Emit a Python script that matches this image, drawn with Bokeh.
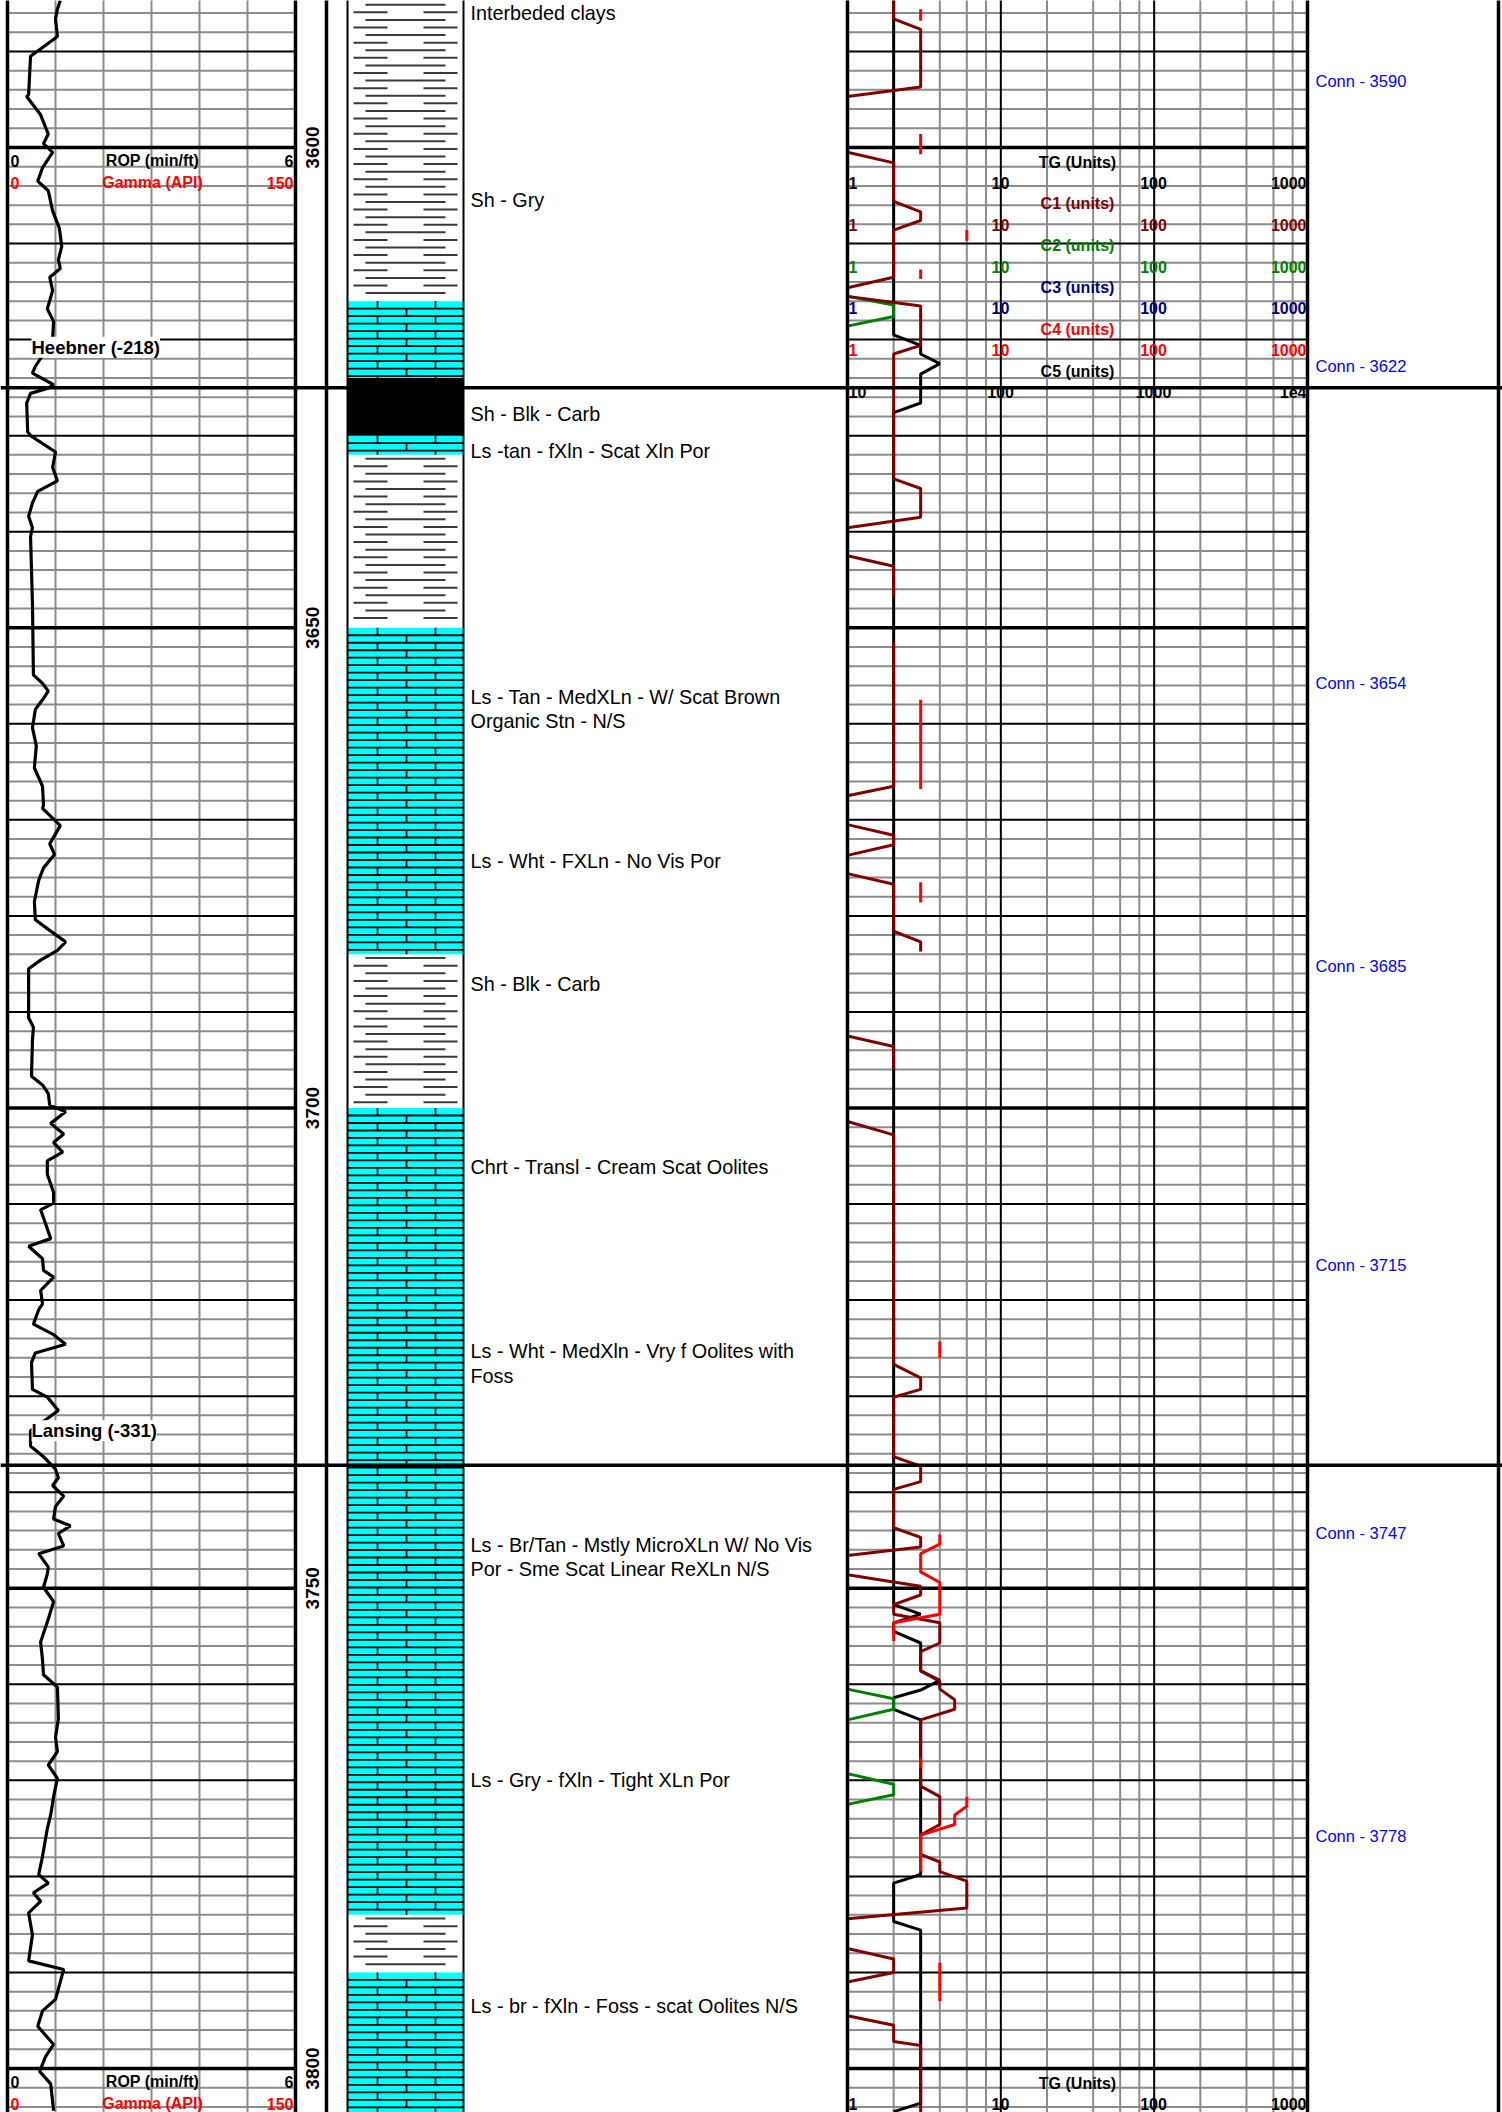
import numpy as np
from bokeh.plotting import figure
from bokeh.models import Range1d, LogScale, Label
from bokeh.core.properties import value
from bokeh.embed import file_html
from bokeh.resources import INLINE

NaN = float("nan")

# ---------------- data ----------------
depth_labels = [3600, 3650, 3700, 3750, 3800]
header_depths = [3600, 3800]

rop_depth = [3584.7, 3585.6, 3586.6, 3588.4, 3588.6, 3590.5, 3594.5, 3594.7, 3596.6, 3598.6,
             3599.6, 3600.5, 3602.1, 3603.5, 3604.5, 3606.6, 3608.4, 3610.3, 3611.7, 3612.6,
             3613.5, 3614.9, 3616.8, 3618.1, 3620.0, 3622.8, 3623.5, 3624.7, 3625.1, 3625.6,
             3626.6, 3629.6, 3630.0, 3631.7, 3633.3, 3634.7, 3635.8, 3637.0, 3638.4, 3639.6,
             3640.5, 3647.5, 3654.9, 3655.8, 3656.6, 3657.5,
             3658.5, 3660.4, 3662.3, 3664.6, 3666.5, 3668.5, 3668.8, 3670.6, 3672.5, 3673.6,
             3675.0, 3676.3, 3678.5, 3680.4, 3681.4, 3682.7, 3683.6, 3684.6, 3685.5, 3690.6,
             3691.6, 3692.9, 3696.7, 3697.6, 3698.5, 3699.7, 3700.4, 3701.6, 3702.7, 3703.6,
             3704.6, 3705.5, 3706.9, 3708.8, 3709.9, 3710.6, 3712.0, 3713.6, 3714.4, 3715.7,
             3716.9, 3717.6, 3719.0, 3720.4, 3721.0, 3722.5, 3723.6, 3724.6, 3725.5, 3726.5,
             3729.3, 3730.1,
             3731.5, 3733.6, 3735.2, 3736.3, 3737.6, 3738.5, 3739.3, 3740.4, 3741.5, 3742.8,
             3743.5, 3744.3, 3745.6, 3746.4, 3747.8, 3748.5, 3749.9, 3751.4, 3753.2, 3755.6,
             3757.5, 3759.0, 3760.3, 3763.6, 3765.5, 3767.0, 3768.4, 3769.8, 3771.7, 3773.6,
             3775.0, 3777.9, 3779.8, 3780.7, 3781.7, 3782.6, 3783.8, 3786.1, 3788.8, 3789.7,
             3792.8, 3794.0, 3795.6, 3797.5, 3798.8, 3800.3, 3801.6, 3804.4]
rop_val = [1.10, 1.04, 1.00, 1.04, 1.00, 0.48, 0.44, 0.40, 0.69, 0.85,
           0.75, 0.94, 0.73, 0.63, 0.85, 0.94, 1.08, 1.13, 1.06, 1.10,
           0.88, 0.94, 0.83, 0.96, 0.94, 0.58, 0.52, 0.96, 0.83, 0.48,
           0.40, 0.42, 0.48, 1.00, 0.94, 1.04, 0.63, 0.52, 0.44, 0.52,
           0.48, 0.52, 0.54, 0.73, 0.85, 0.73,
           0.58, 0.52, 0.60, 0.56, 0.73, 0.75, 0.73, 1.10, 0.88, 0.98,
           0.75, 0.65, 0.56, 0.58, 0.85, 1.21, 1.04, 0.69, 0.44, 0.44,
           0.54, 0.52, 0.50, 0.73, 0.85, 0.88, 1.21, 0.90, 1.17, 0.96,
           1.15, 0.83, 0.83, 0.96, 0.96, 0.69, 0.79, 0.90, 0.44, 0.73,
           0.75, 0.96, 0.69, 0.73, 0.65, 0.54, 0.96, 1.21, 0.58, 0.50,
           0.52, 0.83,
           1.06, 0.48, 0.48, 0.75, 1.00, 1.06, 0.94, 1.17, 1.00, 0.96,
           1.31, 1.06, 1.17, 0.65, 0.85, 0.83, 0.75, 0.96, 0.85, 0.69,
           0.73, 0.75, 1.04, 1.06, 1.00, 1.04, 0.85, 1.04, 0.96, 0.90,
           0.83, 0.73, 0.65, 0.85, 0.54, 0.69, 0.44, 0.52, 0.44, 1.17,
           1.00, 0.73, 0.63, 0.96, 0.79, 0.67, 0.90, 0.96]

tg_depth = [3584.7, 3619.5, 3620.6, 3621.5, 3622.5, 3623.6, 3626.6, 3627.6, 3751.7, 3752.7,
            3753.6, 3754.5, 3755.7, 3758.6, 3759.6, 3760.6, 3761.4, 3762.6, 3763.7, 3779.8,
            3780.7, 3784.7, 3785.6, 3803.6, 3804.5]
tg_val = [2, 2, 3, 3, 4, 3, 3, 2, 2, 3,
          2, 2, 3, 3, 4, 3, 2, 2, 3, 3,
          2, 2, 3, 3, 2]

c1_depth = [3584.7, 3586.6, 3587.7, 3593.7, 3594.7, 3600.5, 3601.6, 3605.6, 3606.7, 3607.6,
            3608.6, 3613.5, 3614.6, 3615.5, 3616.5, 3620.6, 3621.5, 3634.5, 3635.5, 3638.5,
            3639.6, 3642.5, 3643.6, 3646.8, 3649.0, 3651.5, 3666.5, 3667.5, 3670.5, 3671.6,
            3672.6, 3673.7, 3675.6, 3676.7, 3681.6, 3682.7, 3683.7, 3688.0, 3692.5, 3693.6,
            3696.0, 3699.0, 3701.4, 3702.8, 3726.7, 3728.1, 3729.3, 3730.1, 3736.3, 3737.3,
            3738.9, 3739.7, 3743.7, 3744.7, 3745.7, 3746.6, 3748.6, 3749.8, 3750.7, 3751.7,
            3752.7, 3753.6, 3755.7, 3756.6, 3758.6, 3759.7, 3760.5, 3761.6, 3762.6, 3763.7,
            3770.6, 3771.7, 3774.6, 3775.7, 3777.7, 3778.5, 3779.5, 3780.5, 3782.6, 3783.3,
            3784.4, 3787.5, 3788.6, 3790.0, 3791.0, 3794.5, 3795.5, 3797.2, 3797.6, 3804.7]
c1_val = [2, 2, 3, 3, 1, 1, 2, 2, 3, 3,
          2, 2, 1, 1, 3, 3, 2, 2, 3, 3,
          1, 1, 2, 2, NaN, 2, 2, 1, 1, 2,
          2, 1, 1, 2, 2, 3, 3, NaN, 1, 2,
          2, NaN, 1, 2, 2, 3, 3, 2, 2, 3,
          3, 2, 2, 3, 3, 1, 1, 3, 3, 2,
          2, 4, 4, 3, 3, 4, 4, 5, 5, 3,
          3, 4, 4, 3, 3, 4, 4, 6, 6, 6,
          1, 1, 2, 2, 1, 1, 2, 2, 3, 3]

c2_depth = [3584.7, 3615.5, 3616.4, 3617.6, 3618.6, 3760.5, 3761.5, 3762.6, 3763.7, 3769.3,
            3770.4, 3771.5, 3772.5, 3804.7]
c2_val = [1, 1, 2, 2, 1, 1, 2, 2, 1, 1, 2, 2, 1, 1]

c4_depth = [3585.6, 3586.8, 3587.5, 3598.6, 3600.7, 3601.5, 3608.6, 3609.7, 3610.5, 3612.7,
            3613.7, 3614.5, 3657.5, 3666.8, 3667.5, 3676.5, 3678.6, 3679.5, 3724.3, 3726.0,
            3727.0, 3744.4, 3745.4, 3746.4, 3748.3, 3749.4, 3752.7, 3753.6, 3755.5, 3756.5,
            3767.7, 3768.7, 3769.5, 3771.7, 3772.7, 3773.6, 3774.6, 3775.7, 3779.5, 3780.5,
            3789.0, 3793.0]
c4_val = [3, 3, NaN, 3, 3, NaN, 6, 6, NaN, 3,
          3, NaN, 3, 3, NaN, 3, 3, NaN, 4, 4,
          NaN, 4, 4, 3, 3, 4, 4, 2, 2, NaN,
          3, 3, NaN, 6, 6, 5, 5, 3, 3, NaN,
          4, 4]

lith_top = [3580, 3616, 3624, 3630, 3632, 3650, 3684, 3700, 3784, 3790]
lith_bot = [3616, 3624, 3630, 3632, 3650, 3684, 3700, 3784, 3790, 3810]
lith_kind = ["shale", "limestone", "black_shale", "limestone", "shale",
             "limestone", "shale", "limestone", "shale", "limestone"]

desc_text = ["Interbeded clays", "Sh - Gry", "Sh - Blk - Carb", "Ls -tan - fXln - Scat Xln Por",
             "Ls - Tan - MedXLn - W/ Scat Brown", "Organic Stn - N/S",
             "Ls - Wht - FXLn - No Vis Por", "Sh - Blk - Carb",
             "Chrt - Transl - Cream Scat Oolites",
             "Ls - Wht - MedXln - Vry f Oolites with", "Foss",
             "Ls - Br/Tan - Mstly MicroXLn W/ No Vis", "Por - Sme Scat Linear ReXLn N/S",
             "Ls - Gry - fXln - Tight XLn Por",
             "Ls - br - fXln - Foss - scat Oolites N/S"]
desc_depth = [3585.95, 3605.5, 3627.7, 3631.6, 3657.2, 3659.75, 3674.3, 3687.1, 3706.1,
              3725.3, 3727.9, 3745.5, 3748.0, 3770.0, 3793.5]

conn_text = ["Conn - 3590", "Conn - 3622", "Conn - 3654", "Conn - 3685",
             "Conn - 3715", "Conn - 3747", "Conn - 3778"]
conn_depth = [3593.1, 3622.7, 3655.8, 3685.2, 3716.3, 3744.2, 3775.8]

top_names = ["Heebner (-218)", "Lansing (-331)"]
top_depth = [3625.0, 3737.2]
top_label_depth = [3620.8, 3733.6]

rop_header = ["0", "ROP (min/ft)", "6"]
gamma_header = ["0", "Gamma (API)", "150"]
gas_titles = ["TG (Units)", "C1 (units)", "C2 (units)", "C3 (units)", "C4 (units)", "C5 (units)"]
gas_colors = ["black", "#800000", "#008000", "#000080", "#ff0000", "black"]
gas_scales = [["1", "10", "100", "1000"]] * 5 + [["10", "100", "1000", "1e4"]]

rop_grid = [1, 2, 3, 4, 5]
gas_minor = [2, 4, 6, 8, 20, 40, 60, 80, 200, 400, 600, 800]
gas_major = [10, 100]

# ---------------- layout ----------------
W, H = 1502, 2112
PX0, PX1 = 0, 1502
PXFT = 9.605
Y3600 = 147.0
top_d = 3600 + (0 - Y3600) / PXFT
bot_d = 3600 + (H - Y3600) / PXFT
ROP_X0, ROP_PX = 7.0, 48.0
GAS_X0, GAS_PX = 847.0, 460.0 / 3.0

BOLDF = "'Liberation Sans', Arial, sans-serif"
SANS = "'Liberation Sans', Arial, sans-serif"
GREY = "#8c8c8c"

p = figure(width=W, height=H, x_range=Range1d(PX0, PX1), y_range=Range1d(bot_d, top_d),
           output_backend="svg", toolbar_location=None, min_border=0,
           x_axis_type=None, y_axis_type=None)
p.min_border_left = p.min_border_right = p.min_border_top = p.min_border_bottom = 0
p.outline_line_color = None
p.background_fill_color = "white"
p.border_fill_color = "white"
p.extra_x_ranges = {
    "rop": Range1d((PX0 - ROP_X0) / ROP_PX, (PX1 - ROP_X0) / ROP_PX),
    "gas": Range1d(10 ** ((PX0 - GAS_X0) / GAS_PX), 10 ** ((PX1 - GAS_X0) / GAS_PX)),
}
p.extra_x_scales = {"gas": LogScale()}

gd = np.arange(3584, 3808, 2)
minor_d = [float(d) for d in gd if d % 10 != 0]
major_d = [float(d) for d in gd if d % 10 == 0 and d % 50 != 0]
heavy_d = [float(d) for d in gd if d % 50 == 0]
vy0, vy1 = top_d - 2, bot_d + 2

for rng, a, b in (("rop", 0, 6), ("gas", 1, 1000)):
    p.segment(x0=a, x1=b, y0=minor_d, y1=minor_d, x_range_name=rng, line_color=GREY, line_width=2)
p.segment(x0=rop_grid, x1=rop_grid, y0=vy0, y1=vy1, x_range_name="rop", line_color=GREY, line_width=2)
p.segment(x0=gas_minor, x1=gas_minor, y0=vy0, y1=vy1, x_range_name="gas", line_color=GREY, line_width=2)
for rng, a, b in (("rop", 0, 6), ("gas", 1, 1000)):
    p.segment(x0=a, x1=b, y0=major_d, y1=major_d, x_range_name=rng, line_color="black", line_width=2)
    p.segment(x0=a, x1=b, y0=heavy_d, y1=heavy_d, x_range_name=rng, line_color="black", line_width=3.5)
p.segment(x0=gas_major, x1=gas_major, y0=vy0, y1=vy1, x_range_name="gas", line_color="black", line_width=2)

# ---------------- lithology ----------------
LX0, LX1 = 347, 463
BRICK = 0.78
SHR = 0.79
lime = [i for i, k in enumerate(lith_kind) if k == "limestone"]
blk = [i for i, k in enumerate(lith_kind) if k == "black_shale"]
p.quad(left=LX0, right=LX1, top=[lith_top[i] for i in lime], bottom=[lith_bot[i] for i in lime],
       fill_color="#00ffff", line_color=None)
p.quad(left=LX0, right=LX1, top=[lith_top[i] for i in blk], bottom=[lith_bot[i] for i in blk],
       fill_color="black", line_color=None)
by, jx, jy0, jy1 = [], [], [], []
for i in lime:
    t, b = lith_top[i], lith_bot[i]
    r, k = t, 0
    while r < b - 1e-6:
        r2 = min(r + BRICK, b)
        if k > 0:
            by.append(r)
        for xj in ((377, 435) if k % 2 == 0 else (406,)):
            jx.append(xj); jy0.append(r); jy1.append(r2)
        r, k = r2, k + 1
p.segment(x0=LX0, x1=LX1, y0=by, y1=by, line_color="black", line_width=1.8)
p.segment(x0=jx, x1=jx, y0=jy0, y1=jy1, line_color="black", line_width=1.8)
sx0, sx1, sy = [], [], []
for i, kind in enumerate(lith_kind):
    if kind != "shale":
        continue
    t, b = lith_top[i], lith_bot[i]
    r, k = t + SHR * 0.5, 0
    while r < b - 0.25:
        if k % 2 == 0:
            sx0 += [365]; sx1 += [445]; sy += [r]
        else:
            sx0 += [353, 423]; sx1 += [387, 457]; sy += [r, r]
        r, k = r + SHR, k + 1
p.segment(x0=sx0, x1=sx1, y0=sy, y1=sy, line_color="#3a3a3a", line_width=2)

# ---------------- curves ----------------
p.line(x=rop_val, y=rop_depth, x_range_name="rop", line_color="black", line_width=3.2)
p.line(x=tg_val, y=tg_depth, x_range_name="gas", line_color="black", line_width=3)
p.line(x=c2_val, y=c2_depth, x_range_name="gas", line_color="#008000", line_width=3)
p.line(x=c1_val, y=c1_depth, x_range_name="gas", line_color="#800000", line_width=3)
p.line(x=c4_val, y=c4_depth, x_range_name="gas", line_color="#ff0000", line_width=3)

# ---------------- borders ----------------
p.segment(x0=[0, 6], x1=[0, 6], y0=vy0, y1=vy1, x_range_name="rop", line_color="black", line_width=3.5)
p.segment(x0=[1, 1000], x1=[1, 1000], y0=vy0, y1=vy1, x_range_name="gas", line_color="black", line_width=3.5)
p.segment(x0=[326, 1498], x1=[326, 1498], y0=vy0, y1=vy1, line_color="black", line_width=3.5)
p.segment(x0=[LX0, LX1], x1=[LX0, LX1], y0=vy0, y1=vy1, line_color="black", line_width=2)
p.segment(x0=PX0, x1=PX1, y0=top_depth, y1=top_depth, line_color="black", line_width=3.5)


# ---------------- texts ----------------
def txt(x, y, t, color="black", size="16px", font=BOLDF, style="bold", align="left", angle=0.0):
    p.text(x=x, y=y, text=t, text_color=color, text_font_size=size, text_font=value(font),
           text_font_style=style, text_align=align, text_baseline="middle", angle=angle)


for hd in header_depths:
    r1, r2 = hd + 1.4, hd + 3.65
    for xx, al, j in ((10, "left", 0), (152, "center", 1), (293, "right", 2)):
        txt([xx], [r1], [rop_header[j]], align=al)
        txt([xx], [r2], [gamma_header[j]], color="#ff0000", align=al)
    for g in range(6):
        ty = hd + 1.53 + 2.176 * (2 * g)
        sy_ = hd + 1.53 + 2.176 * (2 * g + 1)
        col = gas_colors[g]
        if ty + 0.7 < bot_d:
            txt([1077], [ty], [gas_titles[g]], color=col, align="center")
        if sy_ + 0.7 < bot_d:
            sc = gas_scales[g]
            txt([848], [sy_], [sc[0]], color=col, align="left")
            txt([1000, 1153], [sy_, sy_], [sc[1], sc[2]], color=col, align="center")
            txt([1306], [sy_], [sc[3]], color=col, align="right")

txt([312] * len(depth_labels), depth_labels, [str(d) for d in depth_labels],
    size="19px", align="center", angle=np.pi / 2)

txt([470] * len(desc_text), desc_depth, desc_text, size="19.8px", font=SANS, style="normal")
txt([1315] * len(conn_text), conn_depth, conn_text, color="#0000ff", size="16.5px", font=SANS,
    style="normal")

for name, ld in zip(top_names, top_label_depth):
    p.add_layout(Label(x=31, y=ld, text=name, text_font=BOLDF, text_font_size="18.5px",
                       text_font_style="bold", text_baseline="middle", text_align="left",
                       background_fill_color="white", text_color="black"))

open("out.html", "w").write(file_html(p, INLINE))
